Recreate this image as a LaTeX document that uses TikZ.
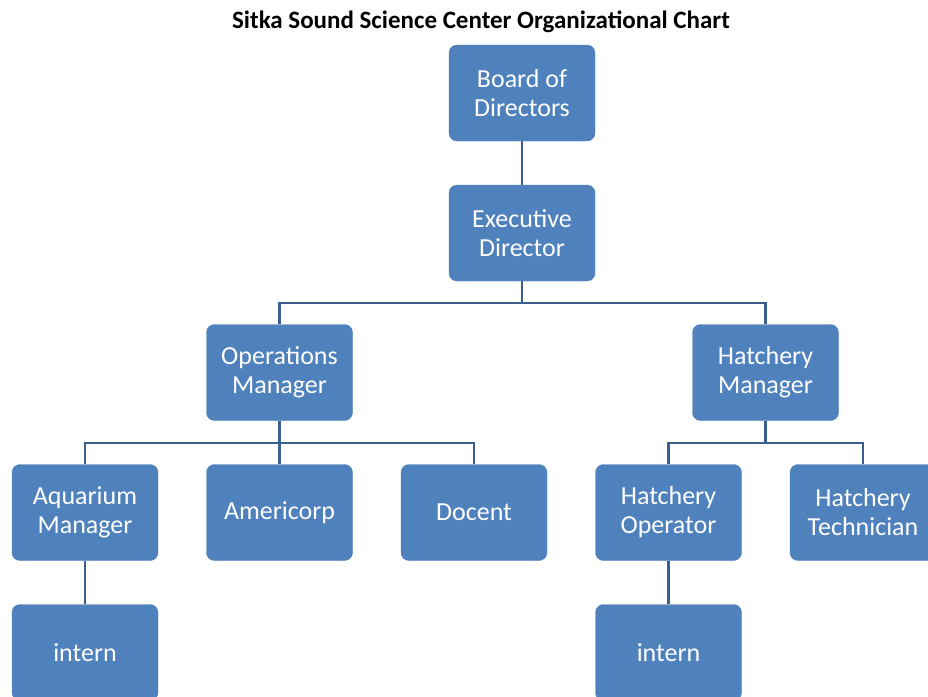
\documentclass[tikz,border=0pt]{standalone}
\usepackage{fontspec}
\setmainfont{Carlito}
\definecolor{boxblue}{HTML}{4F81BD}
\definecolor{lineblue}{HTML}{3B5F8C}
\begin{document}
\begin{tikzpicture}[x=1pt,y=-1pt,
  orgbox/.style={draw=boxblue,fill=boxblue,rounded corners=8pt,minimum width=146pt,minimum height=96pt,
    text=white,align=center,font=\fontsize{26}{29}\selectfont,inner sep=0pt},
  link/.style={draw=lineblue,line width=2.2pt}]
\useasboundingbox (0,0) rectangle (928,696);
\clip (0,0) rectangle (928,696);
\node[font=\bfseries\fontsize{25}{28}\selectfont] (title) at (481,22) {Sitka Sound Science Center Organizational Chart};
\node[orgbox] (board) at (522,93) {Board of\\Directors};
\node[orgbox] (exec) at (522,233) {Executive\\Director};
\node[orgbox] (ops) at (279.5,372.5) {Operations\\Manager};
\node[orgbox] (hman) at (765.5,372.5) {Hatchery\\Manager};
\node[orgbox] (aqua) at (85,512.5) {Aquarium\\Manager};
\node[orgbox] (amer) at (279.5,512.5) {Americorp};
\node[orgbox] (doc) at (474,512.5) {Docent};
\node[orgbox] (hop) at (668.5,512.5) {Hatchery\\Operator};
\node[orgbox] (htech) at (863,512.5) {Hatchery\\Technician};
\node[orgbox] (intA) at (85,652.5) {intern};
\node[orgbox] (intH) at (668.5,652.5) {intern};
\coordinate (j1) at (522,303);
\coordinate (j2) at (279.5,443);
\coordinate (j3) at (765.5,443);
\draw[link] (board.south) -- (exec.north);
\draw[link] (exec.south) -- (j1);
\draw[link] (ops.north) |- (j1) -| (hman.north);
\draw[link] (ops.south) -- (j2);
\draw[link] (aqua.north) |- (j2) -| (doc.north);
\draw[link] (j2) -- (amer.north);
\draw[link] (hman.south) -- (j3);
\draw[link] (hop.north) |- (j3) -| (htech.north);
\draw[link] (aqua.south) -- (intA.north);
\draw[link] (hop.south) -- (intH.north);
\end{tikzpicture}
\end{document}
